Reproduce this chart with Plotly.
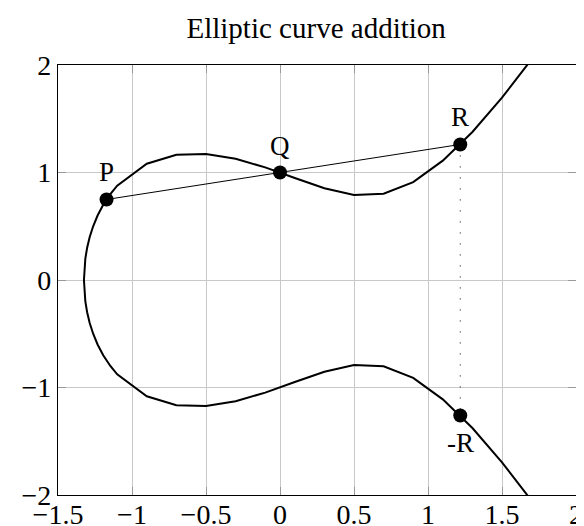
import plotly.graph_objects as go

# upper branch samples
upper_x = [-1.3247, -1.3223, -1.3153, -1.3032, -1.2858, -1.2625, -1.2326, -1.1945, -1.1719, -1.1463,
           -1.1, -0.9, -0.7, -0.5, -0.3, -0.1, 0.1, 0.3, 0.5, 0.7, 0.9, 1.1, 1.3, 1.5, 1.7]
upper_y = [0.0, 0.1, 0.2, 0.3, 0.4, 0.5, 0.6, 0.7, 0.75, 0.8,
           0.877, 1.082, 1.165, 1.173, 1.128, 1.048, 0.949, 0.853, 0.791, 0.802, 0.910, 1.110, 1.377, 1.696, 2.053]
lower_x = upper_x
lower_y = [-v for v in upper_y]

pt_names = ["P", "Q", "R", "-R"]
pt_x = [-1.172, 0.0, 1.218, 1.218]
pt_y = [0.749, 1.0, 1.261, -1.261]
pt_side = [1, 1, 1, -1]  # label above (1) or below (-1)

x_ticks = [-1.5, -1, -0.5, 0, 0.5, 1, 1.5, 2]
x_ticktext = ["−1.5", "−1", "−0.5", "0", "0.5", "1", "1.5", "2"]
y_ticks = [-2, -1, 0, 1, 2]
y_ticktext = ["−2", "−1", "0", "1", "2"]

FONT = "Liberation Serif"

fig = go.Figure()
fig.add_trace(go.Scatter(x=upper_x, y=upper_y, mode="lines",
                         line=dict(color="black", width=2), hoverinfo="skip"))
fig.add_trace(go.Scatter(x=lower_x, y=lower_y, mode="lines",
                         line=dict(color="black", width=2), hoverinfo="skip"))
# secant line P-R
fig.add_trace(go.Scatter(x=[pt_x[0], pt_x[2]], y=[pt_y[0], pt_y[2]], mode="lines",
                         line=dict(color="black", width=1)))
# vertical dotted line R to -R
fig.add_trace(go.Scatter(x=[pt_x[2], pt_x[3]], y=[pt_y[2], pt_y[3]], mode="lines",
                         line=dict(color="black", width=1, dash="1px,10px")))
fig.add_trace(go.Scatter(x=pt_x, y=pt_y, mode="markers",
                         marker=dict(color="black", size=14)))

for name, px, py, side in zip(pt_names, pt_x, pt_y, pt_side):
    fig.add_annotation(x=px, y=py, text=name, showarrow=False,
                       xanchor="center", yanchor="middle", yshift=27 * side,
                       font=dict(family=FONT, size=27, color="black"))

axis_common = dict(showgrid=True, gridcolor="#c8c8c8", gridwidth=1,
                   showline=True, linecolor="black", linewidth=1.2, mirror="ticks",
                   ticks="inside", ticklen=8, tickcolor="#999999", tickwidth=1,
                   zeroline=False, automargin=False,
                   tickfont=dict(family=FONT, size=28, color="black"))

# the page body has an 8px margin, so the figure is sized 8px smaller
fig.update_layout(
    width=576, height=518,
    margin=dict(l=50, r=8, t=57, b=31),
    paper_bgcolor="white", plot_bgcolor="white",
    showlegend=False,
    title=dict(text="Elliptic curve addition", x=0.535, xanchor="center", y=0.962, yanchor="middle",
               font=dict(family=FONT, size=29, color="black")),
    xaxis=dict(range=[-1.5, 2], tickvals=x_ticks, ticktext=x_ticktext,
               ticklabelstandoff=-6, **axis_common),
    yaxis=dict(range=[-2, 2], tickvals=y_ticks, ticktext=y_ticktext, **axis_common),
)

fig.write_html("out.html")
